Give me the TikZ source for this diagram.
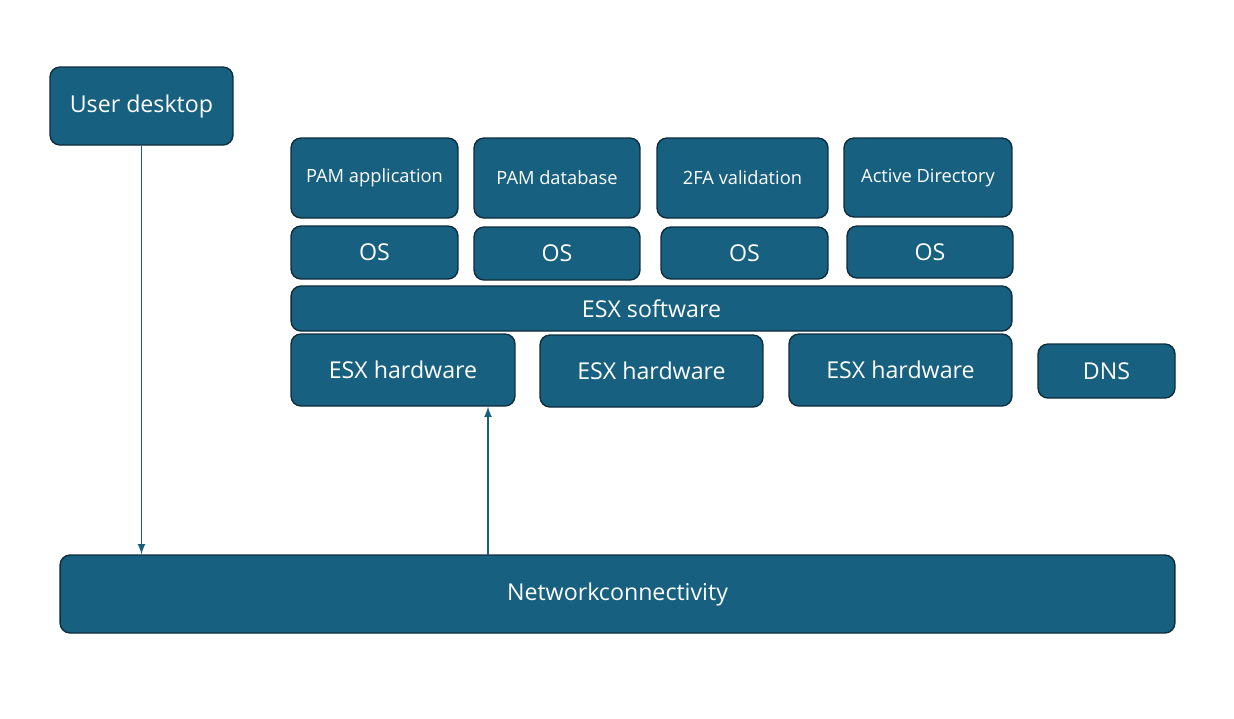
\documentclass[tikz,border=0pt]{standalone}
\usepackage{fontspec}
\setmainfont{Open Sans}
\usetikzlibrary{arrows}
\usetikzlibrary{positioning}
\definecolor{boxblue}{RGB}{23,96,128}
\definecolor{boxedge}{RGB}{14,45,61}

\begin{document}
\begin{tikzpicture}[
  x=0.02cm, y=-0.02cm,
  > = latex,
  blk/.style = {draw=boxedge, line width=0.8pt, fill=boxblue, rounded corners=0.2cm,
    text=white, align=center, inner sep=0pt, font=\fontsize{13.2}{15}\selectfont},
  small/.style = {font=\fontsize{10.4}{12}\selectfont},
  link/.style = {draw=boxblue, line width=1pt, ->}
  ]
	\useasboundingbox (0,0) rectangle (1234,718);

	% top layer
	\node[blk, minimum width=3.66cm, minimum height=1.56cm] (desk) at (141.5,106) {User desktop};

	\node[blk, small, minimum width=3.34cm, minimum height=1.6cm] (app) at (374.5,178) {PAM application};
	\node[blk, small, minimum width=3.32cm, minimum height=1.6cm] (db) at (557,178) {PAM database};
	\node[blk, small, minimum width=3.42cm, minimum height=1.6cm] (tfa) at (742.5,178) {2FA validation};
	\node[blk, small, minimum width=3.36cm, minimum height=1.58cm] (ad) at (928,177.5) {Active Directory};

	\node[blk, minimum width=3.34cm, minimum height=1.06cm] (os1) at (374.5,252.5) {OS};
	\node[blk, minimum width=3.32cm, minimum height=1.06cm] (os2) at (557,253.5) {OS};
	\node[blk, minimum width=3.34cm, minimum height=1.04cm] (os3) at (744.5,253) {OS};
	\node[blk, minimum width=3.32cm, minimum height=1.04cm] (os4) at (930,252) {OS};

	\node[blk, minimum width=14.42cm, minimum height=0.9cm] (esxsw) at (651.5,308.5) {ESX software};

	\node[blk, minimum width=4.48cm, minimum height=1.44cm] (hw1) at (403,370) {ESX hardware};
	\node[blk, minimum width=4.46cm, minimum height=1.44cm] (hw2) at (651.5,371) {ESX hardware};
	\node[blk, minimum width=4.46cm, minimum height=1.44cm] (hw3) at (900.5,370) {ESX hardware};
	\node[blk, minimum width=2.74cm, minimum height=1.08cm] (dns) at (1106.5,371) {DNS};

	% bottom layer
	\node[blk, minimum width=22.3cm, minimum height=1.56cm] (net) at (617.5,594) {Networkconnectivity};

	\coordinate (up) at (488,555);
	\draw[link] (desk.south) -- (desk.south |- net.north);
	\draw[link] (up) -- (up |- hw1.south);

\end{tikzpicture}
\end{document}
